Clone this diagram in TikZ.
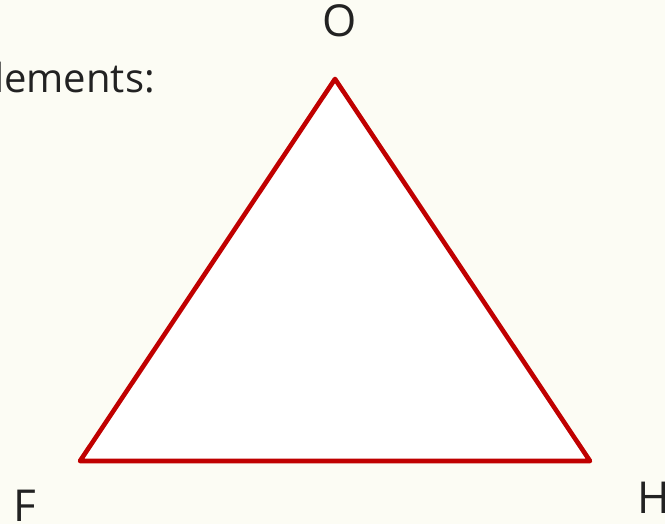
\documentclass[tikz,border=0pt]{standalone}
\usepackage{fontspec}
\setmainfont{Open Sans}
\usepackage{xcolor}
\usetikzlibrary{positioning, calc}

\definecolor{paper}{HTML}{FCFCF4}
\definecolor{edgered}{HTML}{C00000}
\definecolor{inkgray}{HTML}{222222}

\begin{document}
\begin{tikzpicture}[
    x=1pt, y=-1pt,
    triangle/.style={draw=edgered, line width=4.6pt, line join=round, fill=white},
    vertexlabel/.style={inner sep=0pt, text=inkgray, font=\fontsize{44}{52}\selectfont},
    caption/.style={inner sep=0pt, text=inkgray, font=\fontsize{40}{48}\selectfont}
]

    % ================= BACKGROUND =================
    \fill[paper] (0,0) rectangle (665,524);
    \useasboundingbox (0,0) rectangle (665,524);

    % ================= VERTICES =================
    \coordinate (vO) at (335,79);
    \coordinate (vF) at (80,461);
    \coordinate (vH) at (590,461);

    % ================= TRIANGLE =================
    \draw[triangle] (vO) -- (vF) -- (vH) -- cycle;

    % ================= LABELS =================
    \node[vertexlabel, anchor=base] (lO) at (340,37) {O};
    \node[vertexlabel, anchor=base west] (lF) at (13,521) {F};
    \node[vertexlabel, anchor=base west] (lH) at (637,513) {H};

    % --- text cut off at the left edge ---
    \node[caption, anchor=base east] (txt) at (155,93) {elements:};

\end{tikzpicture}
\end{document}
